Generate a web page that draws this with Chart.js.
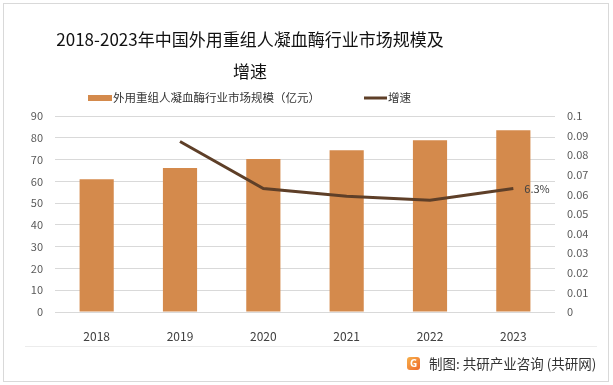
<!DOCTYPE html>
<html lang="zh">
<head>
<meta charset="UTF-8">
<title>外用重组人凝血酶行业市场规模及增速</title>
<script src="https://cdn.jsdelivr.net/npm/chart.js@4.4.0/dist/chart.umd.min.js"></script>
<style>
    body { margin: 0; background: #fff; }
    #wrap { position: relative; width: 613px; height: 385px; }
    #frame { position: absolute; left: 3px; top: 3px; width: 606px; height: 379px; box-sizing: border-box; border: 1px solid #d9d9d9; pointer-events: none; }
    #sep { position: absolute; left: 25px; top: 346px; width: 572px; height: 1px; background: #ececec; }
    #source { position: absolute; left: 407px; top: 353px; font: 13.5px 'Noto Sans CJK SC', sans-serif; color: #333; display: flex; align-items: center; white-space: nowrap; }
    #source .logo { width: 13px; height: 13px; border-radius: 3px; background: linear-gradient(135deg, #f7b04a, #ee6a2c); color: #fff; font: bold 10px 'Noto Sans', sans-serif; text-align: center; line-height: 13px; margin-right: 9px; }
</style>
</head>
<body>
<div id="wrap">
    <canvas id="chart" width="613" height="385"></canvas>
    <div id="frame"></div>
    <div id="sep"></div>
    <div id="source"><span class="logo">G</span>制图: 共研产业咨询 (共研网)</div>
</div>
<script>
// 数据
const years = ['2018', '2019', '2020', '2021', '2022', '2023'];
const marketSize = [61.0, 66.1, 70.2, 74.3, 78.9, 83.5];      // 亿元
const growthRate = [null, 0.087, 0.063, 0.059, 0.057, 0.063];
const titleLines = ['2018-2023年中国外用重组人凝血酶行业市场规模及', '增速'];
const sizeLabel = '外用重组人凝血酶行业市场规模（亿元）';
const rateLabel = '增速';

const BAR_COLOR = '#D48A4C';
const LINE_COLOR = '#5E3F28';
const CJK = "'Noto Sans CJK SC', sans-serif";

// 标题、图例和末点标签
const decorPlugin = {
    id: 'decor',
    afterDraw(chart) {
        const ctx = chart.ctx;
        ctx.save();
        ctx.fillStyle = '#111';
        ctx.font = '17px ' + CJK;
        ctx.textAlign = 'center';
        ctx.textBaseline = 'middle';
        ctx.fillText(titleLines[0], 250, 40);
        ctx.fillText(titleLines[1], 250, 72);

        // 图例
        ctx.font = '11.5px ' + CJK;
        ctx.textAlign = 'left';
        ctx.fillStyle = BAR_COLOR;
        ctx.fillRect(88, 95, 24, 6);
        ctx.fillStyle = '#333';
        ctx.fillText(sizeLabel, 113, 98);
        ctx.strokeStyle = LINE_COLOR;
        ctx.lineWidth = 3;
        ctx.beginPath();
        ctx.moveTo(364, 98);
        ctx.lineTo(387, 98);
        ctx.stroke();
        ctx.fillText(rateLabel, 388, 98);

        // 6.3%
        const meta = chart.getDatasetMeta(1);
        const last = meta.data[meta.data.length - 1];
        ctx.font = '11px ' + CJK;
        ctx.fillStyle = '#404040';
        ctx.fillText((growthRate[growthRate.length - 1] * 100).toFixed(1) + '%', last.x + 11, last.y);
        ctx.restore();
    }
};

new Chart(document.getElementById('chart'), {
    data: {
        labels: years,
        datasets: [
            {
                type: 'bar',
                label: sizeLabel,
                data: marketSize,
                backgroundColor: BAR_COLOR,
                yAxisID: 'y',
                categoryPercentage: 1,
                barPercentage: 0.41,
                order: 2
            },
            {
                type: 'line',
                label: rateLabel,
                data: growthRate,
                borderColor: LINE_COLOR,
                backgroundColor: LINE_COLOR,
                borderWidth: 3,
                pointRadius: 0,
                tension: 0,
                yAxisID: 'y1',
                order: 1
            }
        ]
    },
    options: {
        responsive: false,
        animation: false,
        layout: { padding: { top: 116, left: 0, right: 0, bottom: 0 } },
        plugins: {
            legend: { display: false },
            title: { display: false },
            tooltip: { enabled: false }
        },
        scales: {
            x: {
                grid: { display: false },
                border: { display: false },
                ticks: { color: '#404040', font: { size: 12, family: CJK }, padding: 9 },
                afterFit(s) { s.height = 385 - 312; }
            },
            y: {
                position: 'left',
                min: 0,
                max: 90,
                ticks: { stepSize: 10, color: '#595959', font: { size: 11, family: CJK }, padding: 12 },
                grid: { color: '#d9d9d9', drawTicks: false },
                border: { display: false },
                afterFit(s) { s.width = 55; }
            },
            y1: {
                position: 'right',
                min: 0,
                max: 0.1,
                ticks: {
                    stepSize: 0.01,
                    color: '#595959',
                    font: { size: 11, family: CJK },
                    padding: 12,
                    callback: v => String(parseFloat(v.toFixed(2)))
                },
                grid: { drawOnChartArea: false, drawTicks: false },
                border: { display: false },
                afterFit(s) { s.width = 613 - 555; }
            }
        }
    },
    plugins: [decorPlugin]
});
</script>
</body>
</html>
